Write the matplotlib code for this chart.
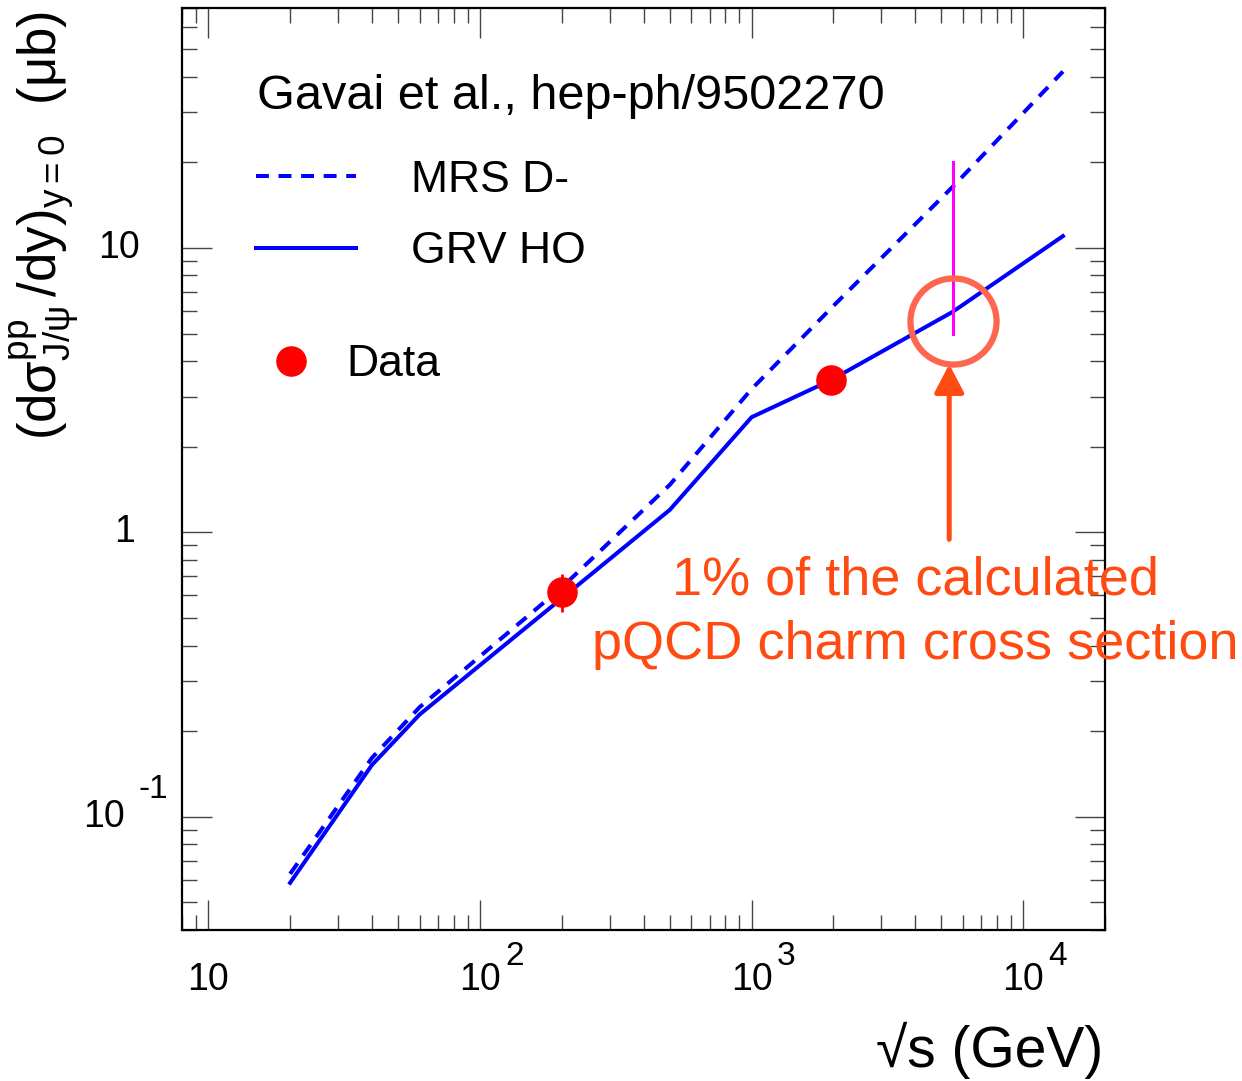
import matplotlib
matplotlib.use('Agg')
import matplotlib.pyplot as plt
from matplotlib.lines import Line2D
from matplotlib.ticker import LogLocator, NullFormatter

plt.rcParams['font.family'] = ['Liberation Sans', 'DejaVu Sans']
plt.rcParams['mathtext.fontset'] = 'custom'
plt.rcParams['mathtext.rm'] = 'Liberation Sans'
plt.rcParams['mathtext.it'] = 'Liberation Sans:italic'
plt.rcParams['mathtext.bf'] = 'Liberation Sans:bold'

# MRS D- (dashed) and GRV HO (solid) calculations
mrs_x = [20, 40, 60, 200, 500, 1000, 2000, 5500, 14000]
mrs_y = [0.063, 0.161, 0.243, 0.64, 1.47, 3.19, 6.25, 16.4, 41.7]
grv_x = [20, 40, 60, 200, 500, 1000, 1960, 5500, 14000]
grv_y = [0.0586, 0.152, 0.229, 0.586, 1.2, 2.54, 3.43, 5.96, 11.0]

# measured points
data_x = [200, 1960]
data_y = [0.615, 3.43]
data_err_lo = [0.09, 0.0]
data_err_hi = [0.1, 0.0]

# LHC range (1% of pQCD charm)
lhc_x = [5500, 5500]
lhc_y = [5.0, 20.0]
circle_x = [5500]
circle_y = [5.53]
arrow_x = 5340
arrow_from = 0.945
arrow_to = 3.9
note_x = 4000
note_y = 0.52

xticks = [10, 100, 1000, 10000]
xexp = ['', '2', '3', '4']
yticks = [0.1, 1, 10]
ybase = ['10', '1', '10']
yexp = ['-1', '', '']

fig = plt.figure(figsize=(12.42, 10.81), dpi=100)
ax = fig.add_axes([182 / 1242, 1 - 930 / 1081, 923 / 1242, 922.5 / 1081])
ax.set_xscale('log')
ax.set_yscale('log')
ax.set_xlim(8, 20000)
ax.set_ylim(0.04, 70)

ax.plot(mrs_x, mrs_y, color='#0000ff', lw=2.9, dashes=(3.2, 2.4))
ax.plot(grv_x, grv_y, color='#0000ff', lw=2.9)
ax.errorbar(data_x, data_y, yerr=[data_err_lo, data_err_hi], fmt='o', color='#ff0000',
            ms=21, elinewidth=2.0, capsize=0, zorder=5)
ax.plot(lhc_x, lhc_y, color='#ff00ff', lw=2.2, zorder=4)
ax.plot(circle_x, circle_y, 'o', mfc='none', mec='#ff6650', ms=62, mew=4.5, zorder=6)
ax.annotate('', xy=(arrow_x, arrow_to), xytext=(arrow_x, arrow_from),
            arrowprops=dict(arrowstyle='-|>,head_length=0.86,head_width=0.45',
                            mutation_scale=20, color='#ff4a12', lw=3.6,
                            shrinkA=0, shrinkB=0))
ax.text(note_x, note_y, '1% of the calculated\npQCD charm cross section',
        ha='center', va='center', multialignment='center', fontsize=39,
        color='#ff4a12', linespacing=1.37)

# ticks, ROOT style
ax.xaxis.set_major_locator(LogLocator(base=10, numticks=10))
ax.xaxis.set_minor_locator(LogLocator(base=10, subs=range(2, 10), numticks=20))
ax.yaxis.set_major_locator(LogLocator(base=10, numticks=10))
ax.yaxis.set_minor_locator(LogLocator(base=10, subs=range(2, 10), numticks=20))
ax.xaxis.set_minor_formatter(NullFormatter())
ax.yaxis.set_minor_formatter(NullFormatter())
ax.tick_params(which='both', direction='in', top=True, right=True,
               labelbottom=False, labelleft=False, color='#444444', width=1.0)
ax.tick_params(which='major', length=21.6)
ax.tick_params(which='minor', length=10.8)
for s in ax.spines.values():
    s.set_linewidth(1.6)

for v, e in zip(xticks, xexp):
    ax.annotate('10', xy=(v, 0), xycoords=('data', 'axes fraction'),
                xytext=(0, -36), textcoords='offset points',
                ha='center', va='center', fontsize=27)
    if e:
        ax.annotate(e, xy=(v, 0), xycoords=('data', 'axes fraction'),
                    xytext=(18, -19), textcoords='offset points',
                    ha='left', va='center', fontsize=24)
for v, b, e in zip(yticks, ybase, yexp):
    if e:
        ax.annotate(b, xy=(0, v), xycoords=('axes fraction', 'data'),
                    xytext=(-41, 0), textcoords='offset points',
                    ha='right', va='center', fontsize=27)
        ax.annotate(e, xy=(0, v), xycoords=('axes fraction', 'data'),
                    xytext=(-31, 20), textcoords='offset points',
                    ha='left', va='center', fontsize=24)
    elif b == '1':
        ax.annotate(b, xy=(0, v), xycoords=('axes fraction', 'data'),
                    xytext=(-34, 0), textcoords='offset points',
                    ha='right', va='center', fontsize=27)
    else:
        ax.annotate(b, xy=(0, v), xycoords=('axes fraction', 'data'),
                    xytext=(-30, 0), textcoords='offset points',
                    ha='right', va='center', fontsize=27)

fig.text(1103 / 1242, 1 - 1050 / 1081, '\u221As (GeV)', ha='right', va='center', fontsize=41)
fig.text(45 / 1242, 1 - 225 / 1081,
         r'$(\mathrm{d\sigma}^{\mathrm{pp}}_{\mathrm{J/\psi}}\,\mathrm{/dy})_{\mathrm{y{=}0}}\ \ (\mathrm{\mu b})$',
         rotation=90, ha='center', va='center', fontsize=38)

ax.text(0.081, 0.903, 'Gavai et al., hep-ph/9502270', transform=ax.transAxes,
        ha='left', va='center', fontsize=35)

h1 = [Line2D([], [], color='#0000ff', lw=2.9, dashes=(3.2, 2.4)),
      Line2D([], [], color='#0000ff', lw=2.9)]
leg1 = ax.legend(h1, ['MRS D-', 'GRV HO'], loc='upper left',
                 bbox_to_anchor=(0.08, 0.835), frameon=False, fontsize=32,
                 handlelength=2.25, handletextpad=1.25, labelspacing=0.69,
                 borderpad=0, borderaxespad=0)
ax.add_artist(leg1)
h2 = [Line2D([], [], color='#ff0000', marker='o', ls='none', ms=21)]
ax.legend(h2, ['Data'], loc='upper left', bbox_to_anchor=(0.0943, 0.635),
          frameon=False, fontsize=32, handlelength=1.0, handletextpad=0.75,
          borderpad=0, borderaxespad=0)

fig.savefig('out.png', dpi=100)
